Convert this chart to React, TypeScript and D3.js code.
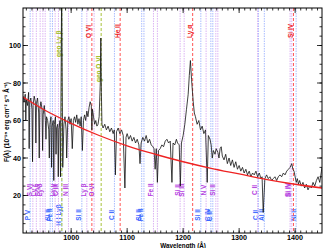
import React from "react";
import * as d3 from "d3";

// observed spectrum, [wavelength (Å), flux]
const spectrum: [number, number][] = [
  [914, 73], [916, 70], [918, 74], [919, 60], [920, 71], [922, 68], [924, 75], [925, 45],
  [926, 70], [928, 72], [930, 66], [931, 38], [932, 68], [934, 73], [936, 70], [937, 48],
  [938, 69], [940, 72], [942, 64], [943, 40], [944, 66], [946, 70], [948, 66], [949, 44],
  [950, 63], [952, 68], [954, 60], [955, 50], [956, 62], [958, 60], [960, 55], [961, 40],
  [962, 58], [964, 62], [965, 35], [966, 57], [968, 60], [969, 28], [970, 58], [972, 62],
  [973, 42], [974, 56], [976, 58], [977, 30], [978, 55], [980, 60], [981, 30], [983, 130],
  [985, 35], [987, 58], [989, 62], [991, 55], [992, 40], [994, 60], [996, 62], [998, 58],
  [1000, 61], [1002, 45], [1004, 60], [1006, 62], [1008, 59], [1010, 63], [1012, 58],
  [1014, 61], [1016, 57], [1018, 62], [1020, 44], [1022, 60], [1024, 63], [1026, 60],
  [1028, 65], [1030, 62], [1032, 67], [1034, 70], [1036, 68], [1037, 55], [1038, 66],
  [1040, 62], [1042, 58], [1044, 60], [1046, 57], [1048, 58], [1050, 62], [1052, 80],
  [1053, 104], [1054, 75], [1055, 58], [1057, 56], [1060, 58], [1063, 55], [1066, 57],
  [1069, 54], [1072, 56], [1075, 53], [1077, 55], [1079, 31], [1081, 54], [1084, 56],
  [1087, 53], [1090, 55], [1093, 52], [1096, 24], [1098, 51], [1100, 53], [1103, 50],
  [1106, 52], [1109, 49], [1112, 51], [1115, 48], [1118, 50], [1121, 47], [1123, 37],
  [1125, 48], [1128, 51], [1131, 49], [1134, 52], [1137, 48], [1140, 50], [1143, 47],
  [1146, 46], [1148, 45], [1150, 34], [1152, 45], [1154, 27], [1156, 44], [1159, 45],
  [1162, 47], [1165, 46], [1168, 49], [1171, 50], [1174, 48], [1177, 49], [1180, 27],
  [1182, 48], [1185, 47], [1188, 50], [1190, 48], [1193, 47], [1195, 25], [1197, 48],
  [1200, 52], [1203, 58], [1206, 66], [1209, 74], [1211, 84], [1213, 92], [1215, 82],
  [1218, 70], [1220, 64], [1222, 62], [1225, 58], [1228, 60], [1231, 55], [1234, 57],
  [1237, 53], [1240, 55], [1243, 27], [1245, 52], [1248, 50], [1250, 47], [1252, 40],
  [1254, 44], [1257, 42], [1259, 45], [1262, 43], [1264, 40], [1266, 45], [1268, 46],
  [1270, 41], [1273, 39], [1276, 42], [1279, 37], [1282, 40], [1285, 36], [1288, 39],
  [1291, 35], [1294, 38], [1297, 34], [1300, 36], [1303, 33], [1306, 35], [1309, 32],
  [1312, 34], [1315, 31], [1318, 33], [1321, 30], [1324, 32], [1327, 31], [1330, 33],
  [1333, 30], [1336, 32], [1339, 29], [1341, 30], [1343, 11], [1346, 29], [1349, 31],
  [1352, 29], [1355, 30], [1358, 28], [1361, 29], [1364, 30], [1367, 28], [1370, 30],
  [1373, 31], [1376, 30], [1379, 32], [1382, 31], [1385, 33], [1388, 34], [1391, 35],
  [1394, 37], [1396, 34], [1398, 33], [1400, 30], [1402, 27], [1404, 29], [1406, 26],
  [1408, 28], [1411, 25], [1414, 27], [1417, 24], [1420, 26], [1423, 23], [1426, 25],
  [1429, 24], [1432, 27], [1435, 25], [1438, 28], [1441, 30], [1444, 27], [1447, 33],
  [1448, 35],
];

// fitted continuum
const contWave = [914, 950, 1000, 1050, 1100, 1150, 1200, 1250, 1300, 1350, 1400, 1448];
const contFlux = [72.5, 66, 58.5, 52, 46.5, 42, 38, 34.5, 31.5, 28.5, 26, 24];

// ISM lines (blue)
const ismWave = [926.8, 962.5, 966.6, 983.4, 1019.1, 1077.3, 1126, 1130, 1231.6, 1249.5, 1253, 1334.5, 1345, 1401.8];
const ismName = ["P V", "Si II", "Fe II", "H I Lyβ", "Si II", "C II", "Si II", "Fe II", "Si II", "C IV", "C II*", "C II", "Al II", "Ni II"];

// intrinsic absorbers (violet)
const absWave = [931.6, 937.8, 944.6, 949.5, 953.6, 971.4, 977.3, 995.2, 1028, 1041, 1147, 1154, 1194.6, 1201.8, 1241, 1258.4, 1262, 1333, 1391, 1394];
const absName = ["S VI", "Ly ε", "S VI", "Ly δ", "", "Ly γ", "C III", "N III", "Ly β", "O VI", "Fe II", "", "Si II", "Si III", "N V", "Si II", "", "C II", "Si IV", "Si IV"];

// emission lines (red)
const emWave = [1037, 1087.5, 1217, 1397];
const emName = ["O VI", "He II", "Ly α", "Si IV"];

// geocoronal lines (green)
const geoWave = [983.4, 1053.6];
const geoName = ["geo Ly β", "geo O VI"];

const W = 330;
const H = 248;
const L = 23, R = 322, T = 8, B = 233;
const font = "'Liberation Sans', Arial, sans-serif";

export default function App() {
  const x = d3.scaleLinear().domain([914, 1448]).range([L, R]);
  const y = d3.scaleLinear().domain([0, 120]).range([B, T]);

  const specLine = d3
    .line<[number, number]>()
    .x((d) => x(d[0]))
    .y((d) => y(d[1]));

  const contLine = d3
    .line<number>()
    .x((d) => x(d))
    .y((d, i) => y(contFlux[i]))
    .curve(d3.curveMonotoneX);

  const xMajor = d3.range(1000, 1401, 100);
  const xMinor = d3.range(920, 1448, 10);
  const yMajor = d3.range(20, 101, 20);
  const yMinor = d3.range(5, 120, 5);

  // vertical marker lines + their rotated labels
  function markers(waves, names, stroke, dash, color, labelY, anchor, key) {
    return waves.map((w, i) => {
      const px = x(w);
      return (
        <g key={key + i}>
          <line x1={px} x2={px} y1={T} y2={B} stroke={stroke} strokeWidth={1} strokeDasharray={dash} />
          {names[i] && (
            <text
              transform={`translate(${px - 0.5},${labelY}) rotate(-90)`}
              textAnchor={anchor}
              fontSize={6.5}
              fontWeight="bold"
              fill={color}
              fontFamily={font}
            >
              {names[i]}
            </text>
          )}
        </g>
      );
    });
  }

  return (
    <svg width={W} height={H} style={{ position: "absolute", left: 0, top: 0, background: "#fff" }}>
      <defs>
        <clipPath id="plot">
          <rect x={L} y={T} width={R - L} height={B - T} />
        </clipPath>
      </defs>

      <g>
        {markers(ismWave, ismName, "#a9bcff", "1.5,1", "#3a66ff", 215, "middle", "ism")}
        {markers(absWave, absName, "#dcb4f4", "1.5,1", "#b440e0", 190, "middle", "abs")}
        {markers(emWave, emName, "#ff5555", "3,2", "#ee2222", 38, "start", "em")}
        {markers(geoWave.slice(0, 1), geoName.slice(0, 1), "#a8c23a", "3,2", "#a0bb22", 57, "start", "geo1")}
        {markers(geoWave.slice(1), geoName.slice(1), "#a8c23a", "3,2", "#a0bb22", 82, "start", "geo2")}
      </g>

      <g clipPath="url(#plot)">
        <path d={specLine(spectrum) || ""} fill="none" stroke="#111" strokeWidth={0.8} />
        <path d={contLine(contWave) || ""} fill="none" stroke="#ee2222" strokeWidth={1.3} />
      </g>

      <rect x={L} y={T} width={R - L} height={B - T} fill="none" stroke="#000" strokeWidth={1} />

      <g stroke="#000" strokeWidth={0.8}>
        {xMinor.map((v) => (
          <g key={"xm" + v}>
            <line x1={x(v)} x2={x(v)} y1={B} y2={B - 2.5} />
            <line x1={x(v)} x2={x(v)} y1={T} y2={T + 2.5} />
          </g>
        ))}
        {xMajor.map((v) => (
          <g key={"xM" + v}>
            <line x1={x(v)} x2={x(v)} y1={B} y2={B - 5} />
            <line x1={x(v)} x2={x(v)} y1={T} y2={T + 5} />
          </g>
        ))}
        {yMinor.map((v) => (
          <g key={"ym" + v}>
            <line x1={L} x2={L + 2.5} y1={y(v)} y2={y(v)} />
            <line x1={R} x2={R - 2.5} y1={y(v)} y2={y(v)} />
          </g>
        ))}
        {yMajor.map((v) => (
          <g key={"yM" + v}>
            <line x1={L} x2={L + 5} y1={y(v)} y2={y(v)} />
            <line x1={R} x2={R - 5} y1={y(v)} y2={y(v)} />
          </g>
        ))}
      </g>

      <g fontFamily={font} fontSize={7.2} fontWeight="bold" fill="#000">
        {xMajor.map((v) => (
          <text key={"xl" + v} x={x(v)} y={240.2} textAnchor="middle">
            {v}
          </text>
        ))}
        {yMajor.map((v) => (
          <text key={"yl" + v} x={L - 2} y={y(v) + 2.6} textAnchor="end">
            {v}
          </text>
        ))}
        <text x={x(1200)} y={247.6} textAnchor="middle" fontSize={6.3}>
          Wavelength (Å)
        </text>
        <text transform={`translate(9,122) rotate(-90)`} textAnchor="middle" fontSize={6.5}>
          F(λ) (10⁻¹⁵ erg cm⁻² s⁻¹ Å⁻¹)
        </text>
      </g>
    </svg>
  );
}
